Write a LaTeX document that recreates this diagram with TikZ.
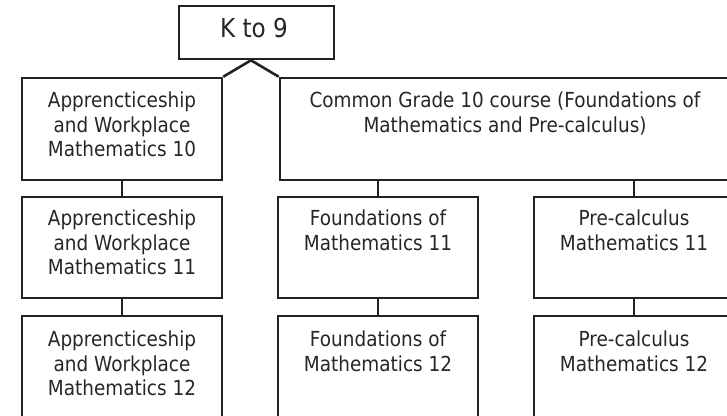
\documentclass[tikz,border=0pt]{standalone}
\usepackage{fontspec}
\setmainfont{DejaVu Sans}[FakeStretch=0.89]
\definecolor{ink}{HTML}{222222}
\definecolor{txt}{HTML}{262626}
\begin{document}
\begin{tikzpicture}[x=1pt,y=-1pt,
  box/.style={draw=ink, line width=2.6pt, inner sep=0pt, minimum width=200pt, minimum height=101pt},
  lbl/.style={text=txt, inner sep=0pt, align=center, anchor=north, font=\fontsize{20.7}{24.5}\selectfont},
  conn/.style={draw=ink, line width=2.6pt}]
\useasboundingbox (0,0) rectangle (727,415);
\clip (0,0) rectangle (727,415);
% top box
\node[box, minimum width=155pt, minimum height=53pt] (k) at (256.5,32.5) {};
\node[text=txt, inner sep=0pt, anchor=base, font=\fontsize{26}{30}\selectfont] (kt) at (254,37) {K to 9};
% row 1
\node[box, minimum height=102pt] (a10) at (122,129) {};
\node[box, minimum width=450pt, minimum height=102pt] (c10) at (505,129) {};
% row 2
\node[box] (a11) at (122,247.5) {};
\node[box] (f11) at (378,247.5) {};
\node[box] (p11) at (634,247.5) {};
% row 3
\node[box] (a12) at (122,366.5) {};
\node[box] (f12) at (378,366.5) {};
\node[box] (p12) at (634,366.5) {};
% labels
\node[lbl] (a10t) at ([yshift=-15pt]a10.north) {Apprencticeship\\and Workplace\\Mathematics 10};
\node[lbl] (c10t) at ([yshift=-15pt]c10.north) {Common Grade 10 course (Foundations of\\Mathematics and Pre-calculus)};
\node[lbl] (a11t) at ([yshift=-14pt]a11.north) {Apprencticeship\\and Workplace\\Mathematics 11};
\node[lbl] (f11t) at ([yshift=-14pt]f11.north) {Foundations of\\Mathematics 11};
\node[lbl] (p11t) at ([yshift=-14pt]p11.north) {Pre-calculus\\Mathematics 11};
\node[lbl] (a12t) at ([yshift=-16pt]a12.north) {Apprencticeship\\and Workplace\\Mathematics 12};
\node[lbl] (f12t) at ([yshift=-16pt]f12.north) {Foundations of\\Mathematics 12};
\node[lbl] (p12t) at ([yshift=-16pt]p12.north) {Pre-calculus\\Mathematics 12};
% connectors
\coordinate (apex) at ([xshift=-5.5pt]k.south);
\draw[conn] (a10.north east) -- (apex) -- (c10.north west);
\draw[conn] (a10.south) -- (a11.north);
\draw[conn] (f11.north) -- (f11.north |- c10.south);
\draw[conn] (p11.north) -- (p11.north |- c10.south);
\draw[conn] (a11.south) -- (a12.north);
\draw[conn] (f11.south) -- (f12.north);
\draw[conn] (p11.south) -- (p12.north);
\end{tikzpicture}
\end{document}
